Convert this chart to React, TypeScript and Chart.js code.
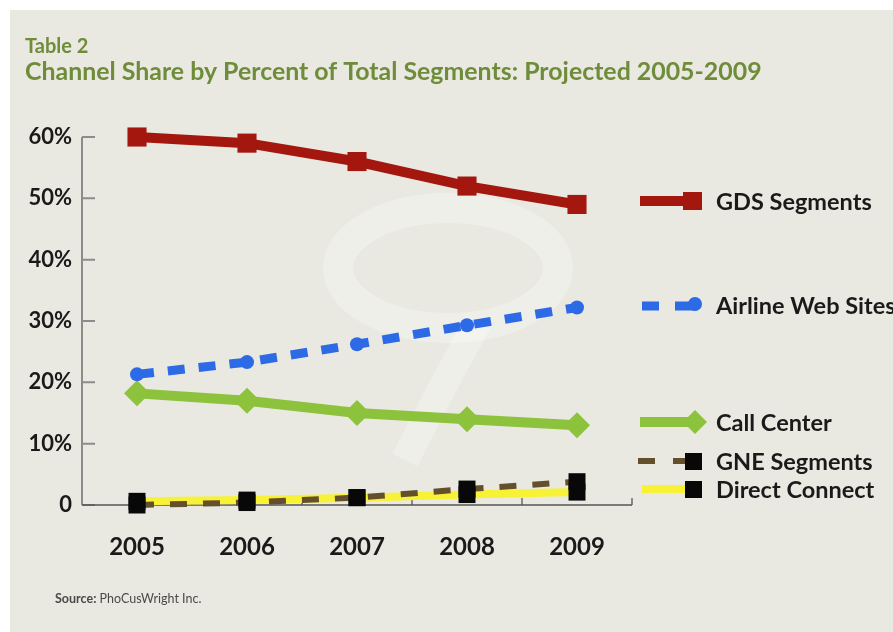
import React, { useEffect, useRef } from "react";
import { Chart, registerables } from "chart.js";

Chart.register(...registerables);

const years = ["2005", "2006", "2007", "2008", "2009"];
const gds = [60, 59, 56, 52, 49];
const airline = [21.3, 23.3, 26.2, 29.3, 32.2];
const callCenter = [18.2, 17, 15, 14, 13];
const gne = [0, 0.4, 1.2, 2.6, 3.8];
const direct = [0.6, 0.8, 1.2, 1.7, 2.1];
const yTickValues = [0, 10, 20, 30, 40, 50, 60];
const seriesNames = ["GDS Segments", "Airline Web Sites", "Call Center", "GNE Segments", "Direct Connect"];
const titleLine1 = "Table 2";
const titleLine2 = "Channel Share by Percent of Total Segments: Projected 2005-2009";
const sourceLabel = "Source:";
const sourceText = " PhoCusWright Inc.";

const FONT = "Lato, 'Open Sans', 'DejaVu Sans', sans-serif";
const RED = "#a3170f";
const BLUE = "#2d6ae6";
const GREEN = "#8cc23c";
const BROWN = "#644f2c";
const YELLOW = "#f7f235";
const BLACK = "#080808";
const TITLE_GREEN = "#6f8c3a";

const decorPlugin = {
  id: "decor",
  beforeDraw(chart: any) {
    const ctx = chart.ctx;
    ctx.save();
    ctx.fillStyle = "#ffffff";
    ctx.fillRect(0, 0, chart.width, chart.height);
    ctx.fillStyle = "#e9e9e1";
    ctx.fillRect(10, 10, chart.width - 10, chart.height - 10);
    // faint watermark
    ctx.strokeStyle = "rgba(255,255,255,0.28)";
    ctx.lineWidth = 30;
    ctx.beginPath();
    ctx.ellipse(448, 268, 110, 60, 0, 0, Math.PI * 2);
    ctx.stroke();
    ctx.lineWidth = 28;
    ctx.beginPath();
    ctx.moveTo(478, 322);
    ctx.quadraticCurveTo(440, 390, 405, 460);
    ctx.stroke();
    ctx.restore();
  },
  beforeDatasetsDraw(chart: any) {
    const ctx = chart.ctx;
    const a = chart.chartArea;
    const ys = chart.scales.y;
    const xs = chart.scales.x;
    ctx.save();
    // y axis
    ctx.strokeStyle = "#8c8c8c";
    ctx.lineWidth = 2;
    ctx.beginPath();
    ctx.moveTo(a.left, ys.getPixelForValue(60));
    ctx.lineTo(a.left, a.bottom);
    for (const v of yTickValues) {
      const y = ys.getPixelForValue(v);
      ctx.moveTo(a.left, y);
      ctx.lineTo(a.left + 13, y);
    }
    ctx.stroke();
    // x axis
    ctx.strokeStyle = "#555555";
    ctx.lineWidth = 1.3;
    ctx.beginPath();
    ctx.moveTo(a.left, a.bottom);
    ctx.lineTo(a.right, a.bottom);
    const step = xs.getPixelForValue(1) - xs.getPixelForValue(0);
    for (let i = 0; i < years.length; i++) {
      const x = xs.getPixelForValue(i) + step / 2;
      ctx.moveTo(x, a.bottom);
      ctx.lineTo(x, a.bottom - 7);
    }
    ctx.stroke();
    ctx.restore();
  },
  afterDraw(chart: any) {
    const ctx = chart.ctx;
    ctx.save();
    // titles
    ctx.fillStyle = TITLE_GREEN;
    ctx.textBaseline = "alphabetic";
    ctx.textAlign = "left";
    ctx.font = `bold 20px ${FONT}`;
    ctx.fillText(titleLine1, 25, 53);
    let size = 24;
    ctx.font = `bold ${size}px ${FONT}`;
    const w = ctx.measureText(titleLine2).width;
    size = size * 737 / w;
    ctx.font = `bold ${size}px ${FONT}`;
    ctx.fillText(titleLine2, 25, 80);
    // source
    ctx.fillStyle = "#4a4a4a";
    ctx.font = `bold 12.5px ${FONT}`;
    ctx.fillText(sourceLabel, 55, 603);
    const sw = ctx.measureText(sourceLabel).width;
    ctx.font = `12.5px ${FONT}`;
    ctx.fillText(sourceText, 55 + sw, 603);

    // legend
    const rows = [201, 305, 422, 461, 489];
    const tx = 716;
    // GDS
    let y = rows[0];
    ctx.strokeStyle = RED;
    ctx.lineWidth = 10;
    ctx.beginPath();
    ctx.moveTo(640, y);
    ctx.lineTo(690, y);
    ctx.stroke();
    ctx.fillStyle = RED;
    ctx.fillRect(683, y - 9, 19, 18);
    // Airline
    y = rows[1];
    ctx.strokeStyle = BLUE;
    ctx.lineWidth = 9;
    ctx.beginPath();
    ctx.moveTo(642, y + 1);
    ctx.lineTo(659, y + 1);
    ctx.moveTo(675, y + 1);
    ctx.lineTo(697, y + 1);
    ctx.stroke();
    ctx.fillStyle = BLUE;
    ctx.beginPath();
    ctx.arc(695, y - 1, 7, 0, Math.PI * 2);
    ctx.fill();
    // Call center
    y = rows[2];
    ctx.strokeStyle = GREEN;
    ctx.lineWidth = 10;
    ctx.beginPath();
    ctx.moveTo(640, y);
    ctx.lineTo(690, y);
    ctx.stroke();
    ctx.fillStyle = GREEN;
    ctx.beginPath();
    ctx.moveTo(707, y);
    ctx.lineTo(695, y - 12);
    ctx.lineTo(683, y);
    ctx.lineTo(695, y + 12);
    ctx.closePath();
    ctx.fill();
    // GNE
    y = rows[3];
    ctx.strokeStyle = BROWN;
    ctx.lineWidth = 6;
    ctx.beginPath();
    ctx.moveTo(638, y);
    ctx.lineTo(655, y);
    ctx.moveTo(673, y);
    ctx.lineTo(690, y);
    ctx.stroke();
    ctx.fillStyle = BLACK;
    ctx.fillRect(685, y - 8, 17, 17);
    // Direct
    y = rows[4];
    ctx.strokeStyle = YELLOW;
    ctx.lineWidth = 8;
    ctx.beginPath();
    ctx.moveTo(642, y);
    ctx.lineTo(690, y);
    ctx.stroke();
    ctx.fillStyle = BLACK;
    ctx.fillRect(685, y - 8, 17, 17);

    ctx.fillStyle = "#1a1a1a";
    ctx.font = `bold 23.5px ${FONT}`;
    ctx.textBaseline = "middle";
    for (let i = 0; i < seriesNames.length; i++) {
      ctx.fillText(seriesNames[i], tx, rows[i] + 1);
    }
    ctx.restore();
  },
};

export default function App() {
  const ref = useRef<HTMLCanvasElement | null>(null);
  useEffect(() => {
    document.body.style.margin = "0";
    const canvas = ref.current;
    if (!canvas) return;
    const chart = new Chart(canvas, {
      type: "line",
      data: {
        labels: years,
        datasets: [
          {
            label: seriesNames[3] + " markers",
            data: gne,
            showLine: false,
            pointStyle: "rect",
            pointRadius: 12,
            pointBackgroundColor: BLACK,
            pointBorderWidth: 0,
            order: 1,
            clip: false,
          },
          {
            label: seriesNames[4] + " markers",
            data: direct,
            showLine: false,
            pointStyle: "rect",
            pointRadius: 12,
            pointBackgroundColor: BLACK,
            pointBorderWidth: 0,
            order: 2,
            clip: false,
          },
          {
            label: seriesNames[0],
            data: gds,
            borderColor: RED,
            borderWidth: 10,
            pointStyle: "rect",
            pointRadius: 13.5,
            pointBackgroundColor: RED,
            pointBorderWidth: 0,
            order: 3,
            clip: false,
          },
          {
            label: seriesNames[1],
            data: airline,
            borderColor: BLUE,
            borderWidth: 9,
            borderDash: [17, 14],
            borderCapStyle: "butt",
            pointStyle: "circle",
            pointRadius: 7,
            pointBackgroundColor: BLUE,
            pointBorderWidth: 0,
            order: 4,
            clip: false,
          },
          {
            label: seriesNames[2],
            data: callCenter,
            borderColor: GREEN,
            borderWidth: 10,
            pointStyle: "rectRot",
            pointRadius: 13,
            pointBackgroundColor: GREEN,
            pointBorderWidth: 0,
            order: 5,
            clip: false,
          },
          {
            label: seriesNames[3],
            data: gne,
            borderColor: BROWN,
            borderWidth: 6,
            borderDash: [17, 16],
            borderCapStyle: "butt",
            pointRadius: 0,
            order: 6,
            clip: false,
          },
          {
            label: seriesNames[4],
            data: direct,
            borderColor: YELLOW,
            borderWidth: 8,
            pointRadius: 0,
            order: 7,
            clip: false,
          },
        ],
      },
      options: {
        animation: false,
        responsive: false,
        maintainAspectRatio: false,
        events: [],
        layout: { padding: { top: 137, right: 261, left: 0, bottom: 0 } },
        plugins: {
          legend: { display: false },
          title: { display: false },
          tooltip: { enabled: false },
        },
        scales: {
          x: {
            type: "category",
            offset: true,
            grid: { display: false, drawTicks: false },
            border: { display: false },
            ticks: {
              padding: 28,
              color: "#1a1a1a",
              font: { family: FONT, size: 24, weight: "bold" },
              maxRotation: 0,
            },
            afterFit(scale: any) {
              scale.height = 127;
            },
          },
          y: {
            min: 0,
            max: 60,
            grid: { display: false, drawTicks: false },
            border: { display: false },
            afterBuildTicks(scale: any) {
              scale.ticks = yTickValues.map((v) => ({ value: v }));
            },
            ticks: {
              padding: 10,
              color: "#1a1a1a",
              font: { family: FONT, size: 22, weight: "bold" },
              callback: (v: any) => (Number(v) === 0 ? "0" : v + "%"),
            },
            afterFit(scale: any) {
              scale.width = 82;
            },
          },
        },
      },
      plugins: [decorPlugin],
    } as any);
    return () => chart.destroy();
  }, []);
  return <canvas ref={ref} width={893} height={632} style={{ display: "block" }} />;
}
